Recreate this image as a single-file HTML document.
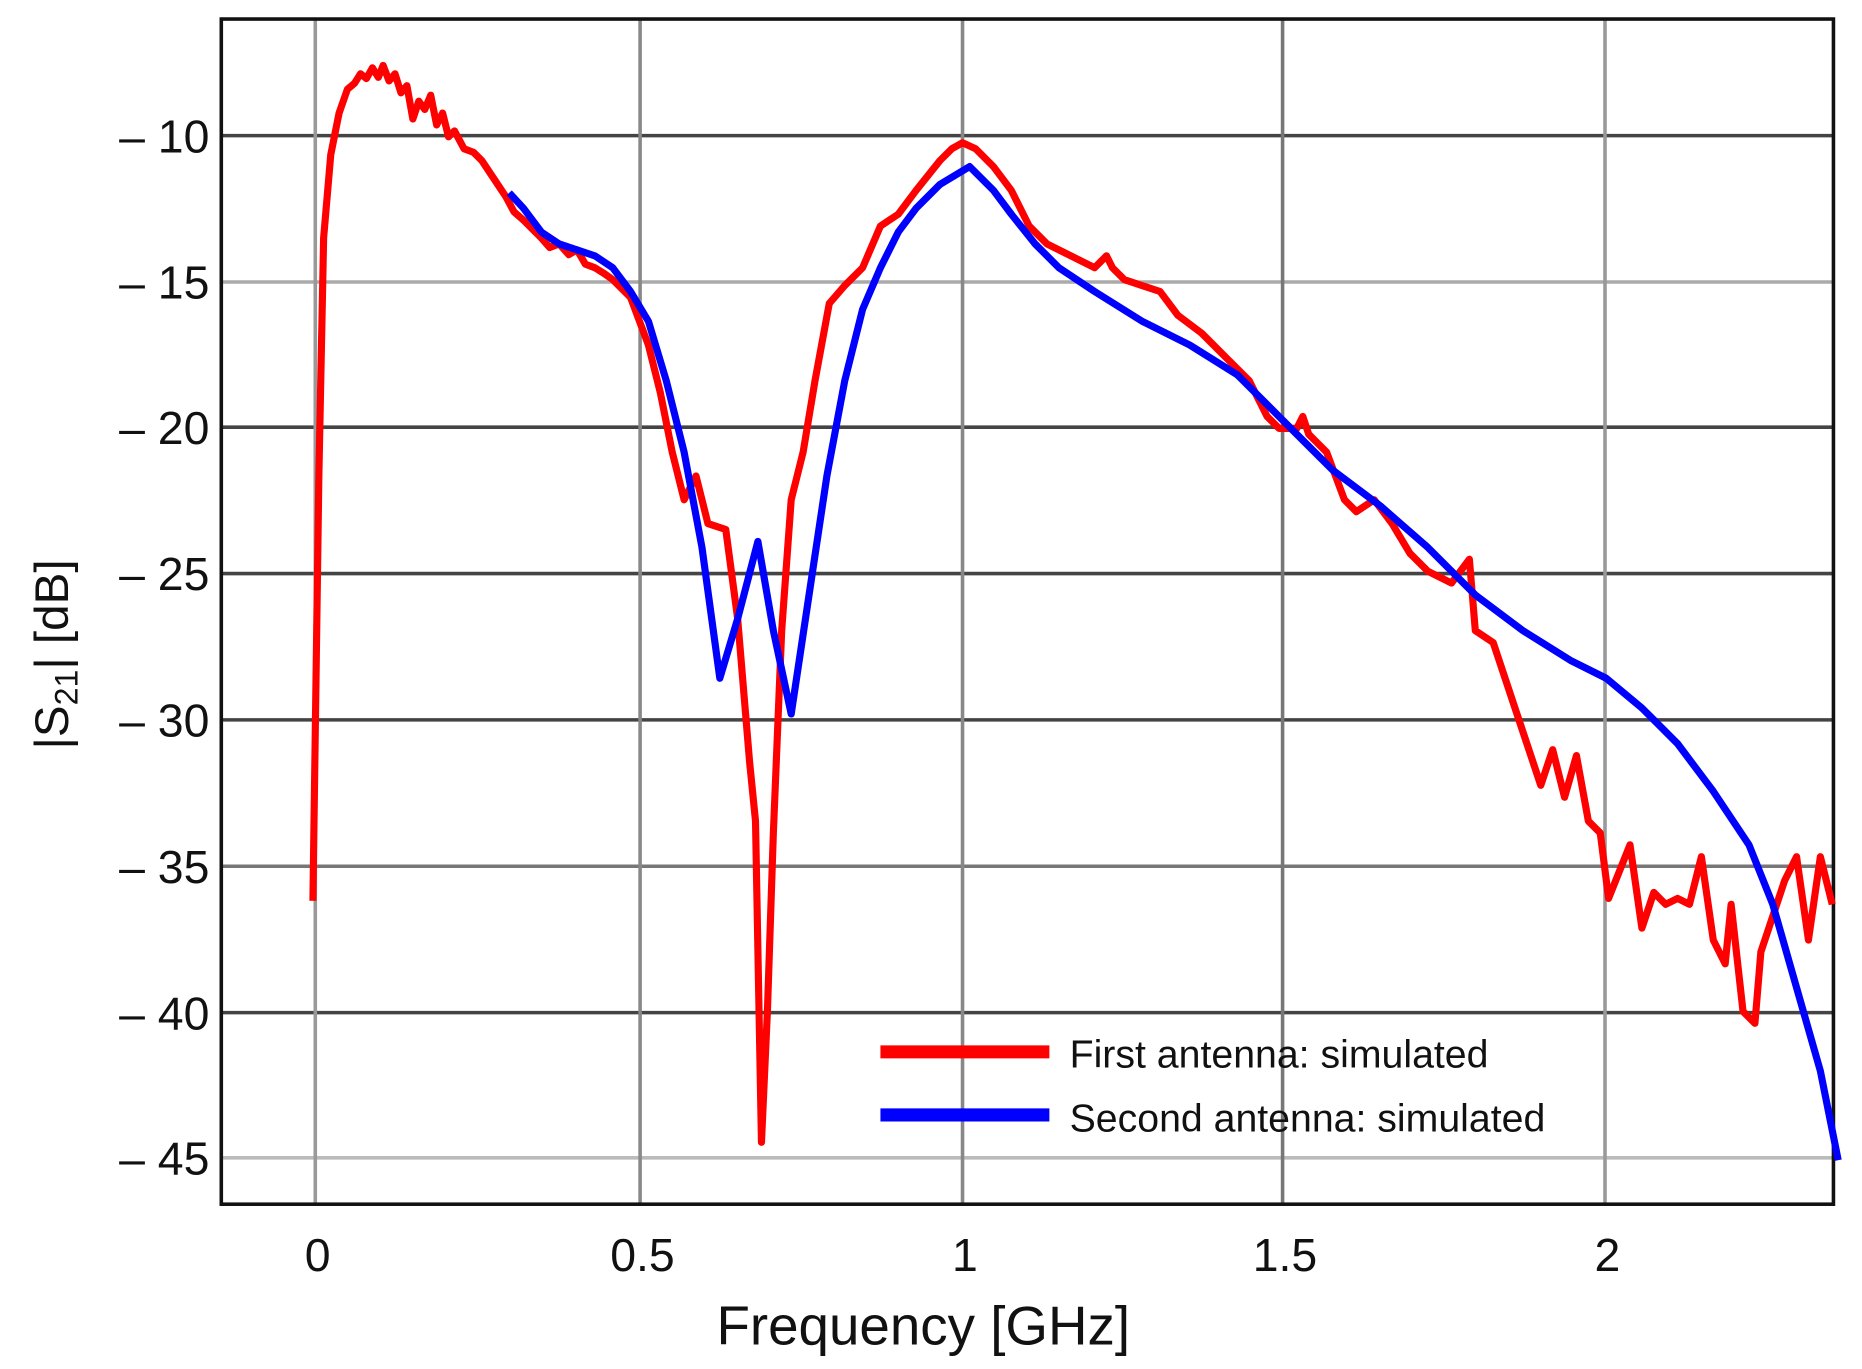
<!DOCTYPE html>
<html><head><meta charset="utf-8"><style>html,body{margin:0;padding:0;background:#fff}svg{display:block}</style></head>
<body>
<svg width="1862" height="1369" viewBox="0 0 1565 1150.5" preserveAspectRatio="none" xmlns="http://www.w3.org/2000/svg" font-family="Liberation Sans, sans-serif">
<rect width="1565" height="1151" fill="#fff"/>
<g stroke-width="3">
<line x1="185" x2="1542" y1="114" y2="114" stroke="#444"/>
<line x1="185" x2="1542" y1="237" y2="237" stroke="#aaa"/>
<line x1="185" x2="1542" y1="359" y2="359" stroke="#444"/>
<line x1="185" x2="1542" y1="482" y2="482" stroke="#444"/>
<line x1="185" x2="1542" y1="605" y2="605" stroke="#444"/>
<line x1="185" x2="1542" y1="728" y2="728" stroke="#777"/>
<line x1="185" x2="1542" y1="851" y2="851" stroke="#444"/>
<line x1="185" x2="1542" y1="973" y2="973" stroke="#bbb"/>
<line y1="15" y2="1013" x1="265" x2="265" stroke="#999"/>
<line y1="15" y2="1013" x1="538" x2="538" stroke="#888"/>
<line y1="15" y2="1013" x1="809" x2="809" stroke="#888"/>
<line y1="15" y2="1013" x1="1078" x2="1078" stroke="#777"/>
<line y1="15" y2="1013" x1="1349" x2="1349" stroke="#999"/>
</g>
<rect x="186" y="16" width="1355" height="996" fill="none" stroke="#111" stroke-width="3"/>
<polyline fill="none" stroke="#f00" stroke-width="6" stroke-linejoin="round" points="263,757 268,400 272,200 278,130 285,95 292,75 298,70 303,62 308,66 313,57 318,65 322,55 327,68 332,62 337,78 342,72 347,100 352,85 357,92 362,80 367,105 372,95 377,115 382,110 390,125 398,128 405,135 415,150 425,165 432,178 440,185 447,192 455,200 462,208 470,205 478,214 485,210 492,222 500,225 508,230 515,235 522,242 530,250 545,290 555,330 565,380 575,420 585,400 595,440 610,445 620,520 630,640 635,690 640,960 645,850 650,700 657,530 665,420 675,380 685,320 697,255 710,240 725,225 740,190 755,180 770,160 790,135 800,125 809,120 820,125 835,140 850,160 865,190 880,205 900,215 920,225 930,215 935,225 945,235 960,240 975,245 990,265 1010,280 1030,300 1050,320 1065,350 1075,360 1090,360 1095,350 1100,365 1105,370 1115,380 1130,420 1140,430 1155,420 1170,440 1185,465 1200,480 1220,490 1235,470 1240,530 1255,540 1265,570 1275,600 1285,630 1295,660 1305,630 1315,670 1325,635 1335,690 1345,700 1352,755 1360,735 1370,710 1380,780 1390,750 1400,760 1410,755 1420,760 1430,720 1440,790 1450,810 1455,760 1465,850 1475,860 1480,800 1490,770 1500,740 1510,720 1520,790 1530,720 1540,760"/>
<polyline fill="none" stroke="#00f" stroke-width="6" stroke-linejoin="round" points="428,162 440,175 455,195 470,205 485,210 500,215 515,225 530,245 545,270 560,320 575,380 590,460 605,570 620,520 637,455 650,530 665,600 680,500 695,400 710,320 725,260 740,225 755,195 770,175 790,155 815,140 835,160 850,180 870,205 890,225 920,245 960,270 1000,290 1040,315 1080,355 1120,395 1160,425 1200,460 1240,500 1280,530 1320,555 1350,570 1380,595 1410,625 1440,665 1470,710 1490,760 1510,830 1530,900 1545,975"/>
<line x1="740" x2="882" y1="884" y2="884" stroke="#f00" stroke-width="11"/>
<line x1="740" x2="882" y1="937" y2="937" stroke="#00f" stroke-width="11"/>
<g font-size="33" fill="#111">
<text x="899" y="897">First antenna: simulated</text>
<text x="899" y="951">Second antenna: simulated</text>
</g>
<g font-size="39" fill="#111" text-anchor="end">
<text x="176" y="128">– 10</text>
<text x="176" y="251">– 15</text>
<text x="176" y="373">– 20</text>
<text x="176" y="496">– 25</text>
<text x="176" y="619">– 30</text>
<text x="176" y="742">– 35</text>
<text x="176" y="865">– 40</text>
<text x="176" y="987">– 45</text>
</g>
<g font-size="39" fill="#111" text-anchor="middle">
<text x="267" y="1068">0</text>
<text x="540" y="1068">0.5</text>
<text x="811" y="1068">1</text>
<text x="1080" y="1068">1.5</text>
<text x="1351" y="1068">2</text>
<text x="776" y="1130" font-size="46">Frequency [GHz]</text>
</g>
<text transform="translate(57,550) rotate(-90)" font-size="40" fill="#111" text-anchor="middle">|S<tspan font-size="27" dy="8">21</tspan><tspan dy="-8">| [dB]</tspan></text>
</svg>
</body></html>
